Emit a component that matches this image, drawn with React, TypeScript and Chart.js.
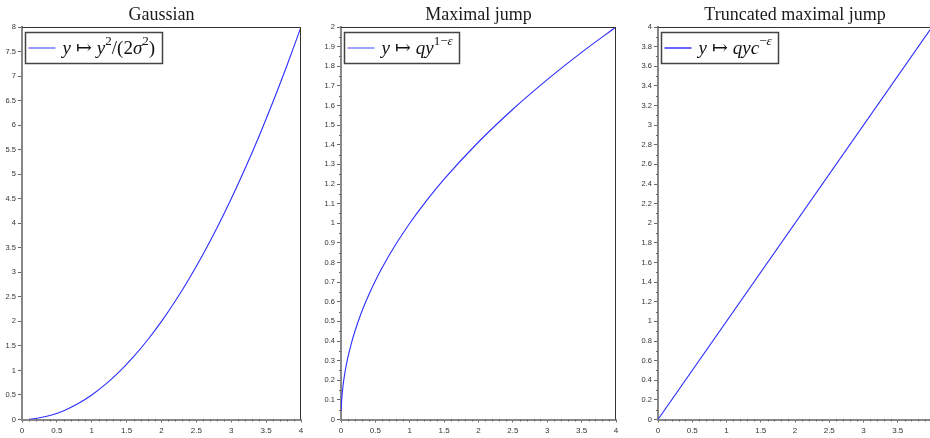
import React, { useEffect, useRef } from 'react';
import { Chart, registerables } from 'chart.js';
Chart.register(...registerables);

const titles = ['Gaussian', 'Maximal jump', 'Truncated maximal jump'];

const gaussX = [0.1, 0.2, 0.4, 0.6, 0.8, 1.0, 1.2, 1.4, 1.6, 1.8, 2.0, 2.2, 2.4, 2.6, 2.8, 3.0, 3.2, 3.4, 3.6, 3.8, 4.0];
const gaussY = [0.005, 0.02, 0.08, 0.18, 0.32, 0.5, 0.72, 0.98, 1.28, 1.62, 2, 2.42, 2.88, 3.38, 3.92, 4.5, 5.12, 5.78, 6.48, 7.22, 8];

const jumpX = [0.002, 0.01, 0.03, 0.06, 0.1, 0.15, 0.2, 0.3, 0.4, 0.5, 0.6, 0.8, 1, 1.25, 1.5, 2, 2.5, 3, 3.5, 4];
const jumpY = [0.045, 0.1, 0.173, 0.245, 0.316, 0.387, 0.447, 0.548, 0.632, 0.707, 0.775, 0.894, 1, 1.118, 1.225, 1.414, 1.581, 1.732, 1.871, 2];

const truncX = [0, 4];
const truncY = [0, 4];

const xMax = 4;
const xStep = 0.5;
const xMinor = 0.1;

const yMaxes = [8, 2, 4];
const ySteps = [0.5, 0.1, 0.2];
const yMinors = [0, 0.05, 0.1];

type Seg = { t: string; i?: boolean; s?: boolean; gap?: number };
const legendGauss: Seg[] = [
  { t: 'y', i: true }, { t: '', gap: 5 }, { t: '\u21A6' }, { t: '', gap: 5 }, { t: 'y', i: true }, { t: '2', s: true },
  { t: '/(2' }, { t: '\u03C3', i: true }, { t: '2', s: true }, { t: ')' },
];
const legendJump: Seg[] = [
  { t: 'y', i: true }, { t: '', gap: 5 }, { t: '\u21A6' }, { t: '', gap: 5 }, { t: 'qy', i: true }, { t: '1\u2212', s: true }, { t: '\u03B5', s: true, i: true },
];
const legendTrunc: Seg[] = [
  { t: 'y', i: true }, { t: '', gap: 5 }, { t: '\u21A6' }, { t: '', gap: 5 }, { t: 'qyc', i: true }, { t: '\u2212', s: true }, { t: '\u03B5', s: true, i: true },
];

const panels = [
  { left: 0, width: 310, yWidth: 22, xs: gaussX, ys: gaussY, legend: legendGauss, tension: true, legendLine: 'rgb(110,110,255)' },
  { left: 310, width: 315, yWidth: 31, xs: jumpX, ys: jumpY, legend: legendJump, tension: true, legendLine: 'rgb(120,120,255)' },
  { left: 625, width: 316, yWidth: 33, xs: truncX, ys: truncY, legend: legendTrunc, tension: false, legendLine: 'rgb(40,40,255)' },
];

const SERIF = "'Liberation Serif', 'DejaVu Serif', serif";
const SANS = "'Liberation Sans', Arial, sans-serif";
const BLUE = 'rgb(45,45,255)';

function fmt(v: number) {
  return String(Math.round(v * 100) / 100);
}

function Panel({ idx }: { idx: number }) {
  const ref = useRef<HTMLCanvasElement>(null);
  const p = panels[idx];
  useEffect(() => {
    if (!ref.current) return;
    const yMax = yMaxes[idx];
    const yMinor = yMinors[idx];
    const deco = {
      id: 'deco' + idx,
      afterDraw(chart: any) {
        const ctx = chart.ctx;
        const a = chart.chartArea;
        const xs = chart.scales.x;
        const ys = chart.scales.y;
        ctx.save();
        // minor ticks
        ctx.strokeStyle = '#666';
        ctx.lineWidth = 1;
        ctx.beginPath();
        const nx = Math.round(xMax / xMinor);
        for (let k = 0; k <= nx; k++) {
          const v = k * xMinor;
          if (Math.abs(v / xStep - Math.round(v / xStep)) < 1e-6) continue;
          const px = Math.round(xs.getPixelForValue(v)) + 0.5;
          ctx.moveTo(px, a.bottom);
          ctx.lineTo(px, a.bottom + 2);
        }
        if (yMinor > 0) {
          const ny = Math.round(yMax / yMinor);
          for (let k = 0; k <= ny; k++) {
            const v = k * yMinor;
            if (Math.abs(v / ySteps[idx] - Math.round(v / ySteps[idx])) < 1e-6) continue;
            const py = Math.round(ys.getPixelForValue(v)) + 0.5;
            ctx.moveTo(a.left - 2, py);
            ctx.lineTo(a.left, py);
          }
        }
        ctx.stroke();
        // frame top/right
        ctx.strokeStyle = '#333';
        ctx.lineWidth = 1;
        ctx.beginPath();
        ctx.moveTo(a.left, Math.round(a.top) + 0.5);
        ctx.lineTo(a.right, Math.round(a.top) + 0.5);
        ctx.moveTo(Math.round(a.right) - 0.5, a.top);
        ctx.lineTo(Math.round(a.right) - 0.5, a.bottom);
        ctx.stroke();
        // title
        ctx.fillStyle = '#1a1a1a';
        ctx.font = `18px ${SERIF}`;
        ctx.textAlign = 'center';
        ctx.textBaseline = 'alphabetic';
        ctx.fillText(titles[idx], (a.left + a.right) / 2, 19.5);
        // legend
        const segs = p.legend;
        const base = 19, sup = 13;
        const fontOf = (s: Seg) => `${s.i ? 'italic ' : ''}${s.s ? sup : base}px ${SERIF}`;
        const segW = (s: Seg) => { if (s.gap) return s.gap; ctx.font = fontOf(s); return ctx.measureText(s.t).width; };
        let tw = 0;
        for (const s of segs) tw += segW(s);
        const bx = Math.round(a.left) + 3.5;
        const by = Math.round(a.top) + 5.5;
        const bw = Math.round(tw + 44);
        const bh = 31;
        ctx.fillStyle = '#fff';
        ctx.fillRect(bx, by, bw, bh);
        ctx.strokeStyle = '#444';
        ctx.lineWidth = 1.5;
        ctx.strokeRect(bx, by, bw, bh);
        ctx.strokeStyle = p.legendLine;
        ctx.lineWidth = 1.4;
        ctx.beginPath();
        ctx.moveTo(bx + 3, by + 15.5);
        ctx.lineTo(bx + 30, by + 15.5);
        ctx.stroke();
        ctx.fillStyle = '#111';
        ctx.textAlign = 'left';
        let tx = bx + 37;
        const baseY = by + 21;
        for (const s of segs) {
          const w = segW(s);
          if (!s.gap) {
            ctx.font = fontOf(s);
            ctx.fillText(s.t, tx, s.s ? baseY - 9 : baseY);
          }
          tx += w;
        }
        ctx.restore();
      },
    };
    const chart = new Chart(ref.current, {
      type: 'line',
      data: {
        datasets: [
          {
            data: p.xs.map((x, i) => ({ x, y: p.ys[i] })),
            borderColor: BLUE,
            borderWidth: 1.1,
            pointRadius: 0,
            fill: false,
            cubicInterpolationMode: p.tension ? 'monotone' : 'default',
          } as any,
        ],
      },
      options: {
        responsive: false,
        animation: false,
        layout: { padding: { top: 27, right: 9, left: 0, bottom: 0 } },
        plugins: { legend: { display: false }, tooltip: { enabled: false }, title: { display: false } },
        scales: {
          x: {
            type: 'linear',
            min: 0,
            max: xMax,
            afterFit: (s: any) => { s.height = 18.5; },
            ticks: { stepSize: xStep, callback: (v: any) => fmt(Number(v)), font: { size: 8, family: SANS }, color: '#333', padding: 3, maxRotation: 0, autoSkip: false },
            grid: { display: true, drawOnChartArea: false, drawTicks: true, tickLength: 3, color: '#666' },
            border: { display: true, color: '#888', width: 2 },
          },
          y: {
            type: 'linear',
            min: 0,
            max: yMax,
            afterFit: (s: any) => { s.width = p.yWidth; },
            ticks: { stepSize: ySteps[idx], callback: (v: any) => fmt(Number(v)), font: { size: 7.5, family: SANS }, color: '#333', padding: 2, autoSkip: false },
            grid: { display: true, drawOnChartArea: false, drawTicks: true, tickLength: 4, color: '#666' },
            border: { display: true, color: '#888', width: 2 },
          },
        },
      },
      plugins: [deco],
    });
    return () => chart.destroy();
  }, []);
  return (
    <canvas
      ref={ref}
      width={p.width}
      height={438}
      style={{ position: 'absolute', left: p.left, top: 0, width: p.width, height: 438 }}
    />
  );
}

export default function App() {
  return (
    <div style={{ position: 'absolute', left: 0, top: 0, width: 930, height: 438, overflow: 'hidden', background: '#fff' }}>
      <Panel idx={0} />
      <Panel idx={1} />
      <Panel idx={2} />
    </div>
  );
}
